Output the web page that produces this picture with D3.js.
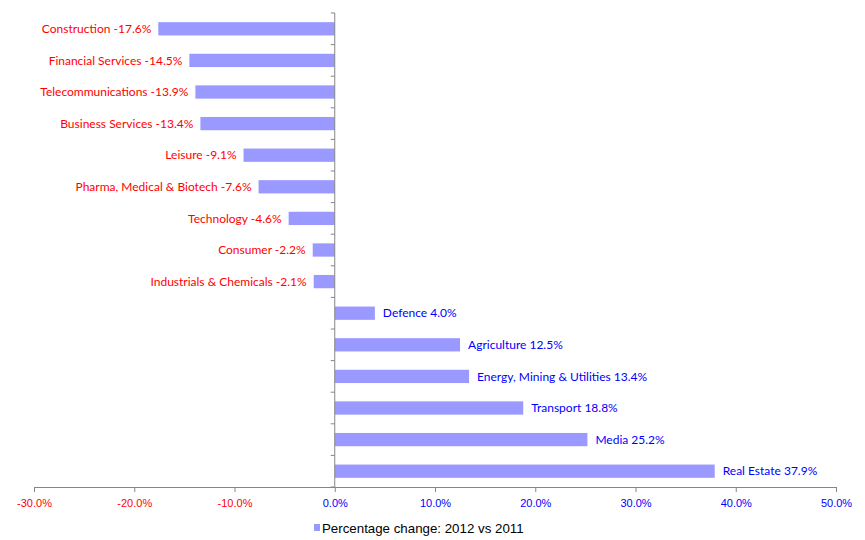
<!DOCTYPE html>
<html lang="en">
    <head>
        <meta charset="utf-8">
        <title>Percentage change 2012 vs 2011</title>
        <script type="text/javascript" src="https://cdn.jsdelivr.net/npm/d3@7"></script>
        <style>
            body { margin: 0; background: #fff; }
        </style>
    </head>
    <body>
        <script type="text/javascript">

        var sectors = ["Construction", "Financial Services", "Telecommunications", "Business Services",
                       "Leisure", "Pharma, Medical & Biotech", "Technology", "Consumer",
                       "Industrials & Chemicals", "Defence", "Agriculture", "Energy, Mining & Utilities",
                       "Transport", "Media", "Real Estate"];
        var changes = [-17.6, -14.5, -13.9, -13.4, -9.1, -7.6, -4.6, -2.2, -2.1,
                       4.0, 12.5, 13.4, 18.8, 25.2, 37.9];
        var xTicks = [-30, -20, -10, 0, 10, 20, 30, 40, 50];
        var seriesName = "Percentage change: 2012 vs 2011";

        var w = 865;
        var h = 540;
        var barColor = "#9999ff";
        var axisColor = "#868686";

        var svg = d3.select("body")
            .append("svg")
            .attr("width", w)
            .attr("height", h);

        var x = d3.scaleLinear()
            .domain([-30, 50])
            .range([34, 836]);

        var y = d3.scaleBand()
            .domain(sectors)
            .range([13, 487])
            .paddingInner(0.58)
            .paddingOuter(0.29);

        var data = sectors.map(function(s, i) { return [s, changes[i]]; });

        // bars
        svg.selectAll("rect.bar")
           .data(data)
           .enter()
           .append("rect")
           .attr("class", "bar")
           .attr("x", function(d) { return x(Math.min(0, d[1])); })
           .attr("y", function(d) { return y(d[0]); })
           .attr("width", function(d) { return Math.abs(x(d[1]) - x(0)); })
           .attr("height", y.bandwidth())
           .attr("fill", barColor);

        // bar labels
        svg.selectAll("text.lbl")
           .data(data)
           .enter()
           .append("text")
           .attr("class", "lbl")
           .text(function(d) { return d[0] + " " + d[1].toFixed(1) + "%"; })
           .attr("x", function(d) { return d[1] < 0 ? x(d[1]) - 7 : x(d[1]) + 8; })
           .attr("y", function(d) { return y(d[0]) + y.bandwidth() / 2; })
           .attr("dy", "0.35em")
           .attr("text-anchor", function(d) { return d[1] < 0 ? "end" : "start"; })
           .attr("font-family", "Lato, 'Open Sans', sans-serif")
           .attr("font-size", "12px")
           .attr("fill", function(d) { return d[1] < 0 ? "#ff0000" : "#0000ff"; });

        // x axis
        var xAxis = svg.append("g")
            .attr("transform", "translate(0,487)")
            .call(d3.axisBottom(x)
                .tickValues(xTicks)
                .tickSize(5)
                .tickPadding(7)
                .tickFormat(function(d) { return d.toFixed(1) + "%"; }));
        xAxis.select(".domain").attr("stroke", axisColor);
        xAxis.selectAll(".tick line").attr("stroke", axisColor);
        xAxis.selectAll(".tick text")
            .attr("font-family", "'Liberation Sans Narrow', 'Liberation Sans', sans-serif")
            .attr("font-size", "11px")
            .attr("fill", function(d) { return d < 0 ? "#ff0000" : "#0000ff"; });

        // y axis at zero with ticks at category boundaries
        var bounds = d3.range(sectors.length + 1).map(function(i) { return 13 + i * (474 / sectors.length); });
        var yAxis = svg.append("g");
        yAxis.append("line")
            .attr("x1", x(0)).attr("x2", x(0))
            .attr("y1", 13).attr("y2", 487)
            .attr("stroke", axisColor);
        yAxis.selectAll("line.yt")
            .data(bounds)
            .enter()
            .append("line")
            .attr("class", "yt")
            .attr("x1", x(0) - 4).attr("x2", x(0))
            .attr("y1", function(d) { return d; })
            .attr("y2", function(d) { return d; })
            .attr("stroke", axisColor);

        // legend
        var legend = svg.append("g").attr("transform", "translate(314,528)");
        legend.append("rect")
            .attr("x", 0).attr("y", -4)
            .attr("width", 6).attr("height", 7)
            .attr("fill", barColor);
        legend.append("text")
            .text(seriesName)
            .attr("x", 8)
            .attr("y", 0)
            .attr("dy", "0.35em")
            .attr("font-family", "'Liberation Sans Narrow', 'Liberation Sans', sans-serif")
            .attr("font-size", "13.3px")
            .attr("fill", "#000");
        </script>
    </body>
</html>
